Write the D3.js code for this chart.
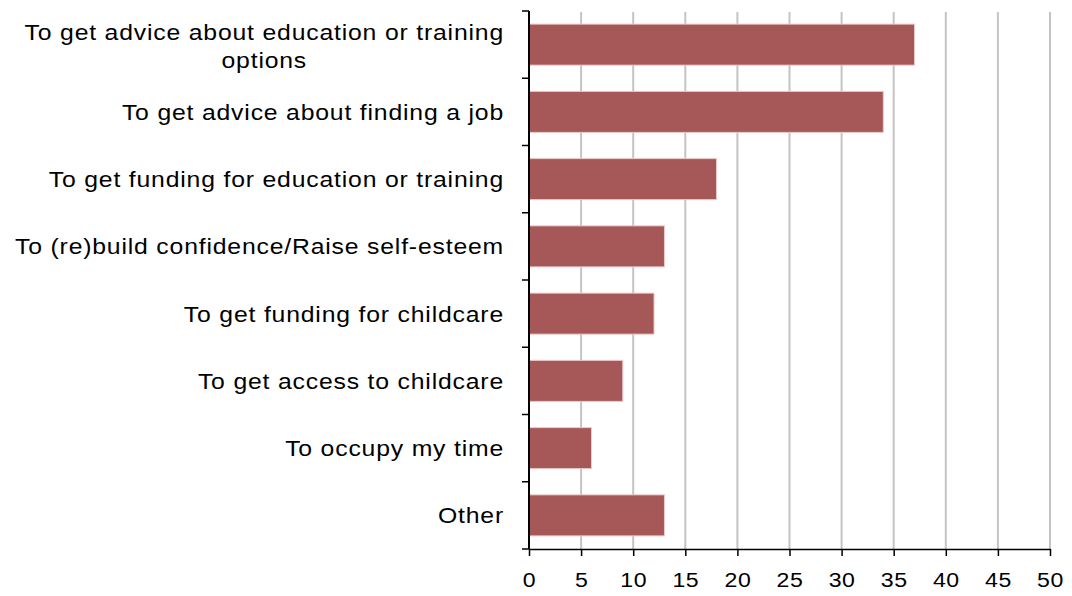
<!DOCTYPE html>
<html>
<head>
<meta charset="utf-8">
<script src="https://cdn.jsdelivr.net/npm/d3@7"></script>
<style>
  html, body { margin: 0; padding: 0; background: #fff; }
  svg { display: block; font-family: "Liberation Sans", Arial, sans-serif; }
</style>
</head>
<body>
<svg id="chart" width="1072" height="596"></svg>
<script>
// Reasons for contacting the service (%)
const categories = [
  "To get advice about education or training options",
  "To get advice about finding a job",
  "To get funding for education or training",
  "To (re)build confidence/Raise self-esteem",
  "To get funding for childcare",
  "To get access to childcare",
  "To occupy my time",
  "Other"
];
// Line breaks used for the long first label
const categoryLines = [
  ["To get advice about education or training", "options"],
  ["To get advice about finding a job"],
  ["To get funding for education or training"],
  ["To (re)build confidence/Raise self-esteem"],
  ["To get funding for childcare"],
  ["To get access to childcare"],
  ["To occupy my time"],
  ["Other"]
];
const values = [37, 34, 18, 13, 12, 9, 6, 13];
const xTicks = [0, 5, 10, 15, 20, 25, 30, 35, 40, 45, 50];

const svg = d3.select("#chart");
const plotLeft = 529, plotRight = 1050, plotTop = 11, plotBottom = 549;
const widen = 1.1; // horizontal stretch applied to text

const x = d3.scaleLinear().domain([0, 50]).range([plotLeft, plotRight]);
const y = d3.scaleBand().domain(categories).range([plotTop, plotBottom])
  .paddingInner(0.39).paddingOuter(0.195);

// vertical gridlines
svg.append("g").selectAll("line")
  .data(xTicks.filter(d => d > 0))
  .join("line")
  .attr("x1", d => x(d)).attr("x2", d => x(d))
  .attr("y1", plotTop + 1).attr("y2", plotBottom)
  .attr("stroke", "#c4c4c4").attr("stroke-width", 2);

// bars
svg.append("g").selectAll("rect")
  .data(values)
  .join("rect")
  .attr("x", x(0))
  .attr("y", (d, i) => y(categories[i]))
  .attr("width", d => x(d) - x(0))
  .attr("height", y.bandwidth())
  .attr("fill", "#a65757")
  .attr("stroke", "#edc9c9")
  .attr("stroke-width", 1);

// x axis
const xAxis = svg.append("g")
  .attr("transform", `translate(0,${plotBottom})`)
  .call(d3.axisBottom(x).tickValues(xTicks).tickSize(7).tickPadding(16).tickSizeOuter(0));
xAxis.select(".domain").attr("stroke", "#000").attr("stroke-width", 1.5);
xAxis.selectAll(".tick line").attr("stroke", "#000").attr("stroke-width", 1.5);
xAxis.selectAll(".tick text")
  .attr("font-size", 21).attr("fill", "#000")
  .attr("letter-spacing", "0.5px")
  .attr("transform", `scale(${widen},1)`)
  .attr("font-family", "Liberation Sans, Arial, sans-serif");

// y axis line with ticks between categories
const yAxisG = svg.append("g");
yAxisG.append("line")
  .attr("x1", plotLeft).attr("x2", plotLeft).attr("y1", plotTop).attr("y2", plotBottom)
  .attr("stroke", "#000").attr("stroke-width", 2);
const step = y.step();
const boundaries = d3.range(categories.length + 1).map(i => plotTop + i * step);
yAxisG.selectAll("line.tk")
  .data(boundaries)
  .join("line").attr("class", "tk")
  .attr("x1", plotLeft - 7).attr("x2", plotLeft)
  .attr("y1", d => d).attr("y2", d => d)
  .attr("stroke", "#000").attr("stroke-width", 1.5);

// category labels (multi-line blocks centred on each other, right-aligned as a block)
const labelRight = 504;
const lineH = 29;
const labels = svg.append("g")
  .attr("font-size", 22.5).attr("letter-spacing", "0.75px").attr("fill", "#000");
categoryLines.forEach((lines, i) => {
  const cy = y(categories[i]) + y.bandwidth() / 2 + (lines.length > 1 ? 1.5 : 0);
  const g = labels.append("g")
    .attr("transform", `translate(${labelRight},${cy}) scale(${widen},1)`);
  const texts = lines.map((t, j) => g.append("text")
    .attr("y", (j - (lines.length - 1) / 2) * lineH)
    .attr("dy", "0.35em")
    .text(t));
  const widths = texts.map(t => t.node().getComputedTextLength());
  const maxW = d3.max(widths);
  texts.forEach(t => t.attr("text-anchor", "middle").attr("x", -maxW / 2));
});
</script>
</body>
</html>
